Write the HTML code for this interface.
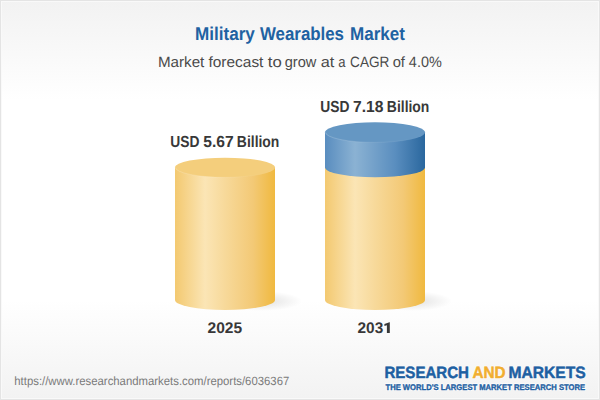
<!DOCTYPE html>
<html><head><meta charset="utf-8">
<style>
html,body{margin:0;padding:0;width:600px;height:400px;overflow:hidden;background:#fff;}
svg{display:block;}
text{font-family:"Liberation Sans",sans-serif;text-rendering:geometricPrecision;}
</style></head>
<body>
<svg width="600" height="400" viewBox="0 0 600 400">
<defs>
  <linearGradient id="bg" x1="0" y1="0" x2="0" y2="1">
    <stop offset="0" stop-color="#f2f2f2"/>
    <stop offset="0.25" stop-color="#ffffff"/>
    <stop offset="0.75" stop-color="#ffffff"/>
    <stop offset="1" stop-color="#f2f2f2"/>
  </linearGradient>
  <linearGradient id="yel" x1="0" y1="0" x2="1" y2="0">
    <stop offset="0" stop-color="#f3c970"/>
    <stop offset="0.3" stop-color="#fbe5b5"/>
    <stop offset="0.5" stop-color="#f7d99a"/>
    <stop offset="0.78" stop-color="#f3c976"/>
    <stop offset="1" stop-color="#f0b93f"/>
  </linearGradient>
  <linearGradient id="blu" x1="0" y1="0" x2="1" y2="0">
    <stop offset="0" stop-color="#598dbf"/>
    <stop offset="0.3" stop-color="#8bb2d3"/>
    <stop offset="0.7" stop-color="#5a8ebf"/>
    <stop offset="1" stop-color="#2a679e"/>
  </linearGradient>
  <linearGradient id="rim" x1="0" y1="0" x2="1" y2="0">
    <stop offset="0" stop-color="#fff" stop-opacity="0.2"/>
    <stop offset="0.6" stop-color="#fff" stop-opacity="0.08"/>
    <stop offset="1" stop-color="#fff" stop-opacity="0"/>
  </linearGradient>
  <radialGradient id="shadow" cx="0.5" cy="0.5" r="0.5">
    <stop offset="0" stop-color="#000" stop-opacity="0.12"/>
    <stop offset="1" stop-color="#000" stop-opacity="0"/>
  </radialGradient>
</defs>
<rect x="0" y="0" width="600" height="400" fill="url(#bg)"/>
<rect x="1.5" y="1.5" width="597" height="397" fill="none" stroke="#f9f9f9" stroke-width="1"/>
<rect x="0.5" y="0.5" width="599" height="399" fill="none" stroke="#e4e4e4" stroke-width="1"/>

<g font-size="18.5" font-weight="bold" fill="#1f62a2">
<text x="195" y="40" textLength="59.9" lengthAdjust="spacingAndGlyphs">Military</text>
<text x="260" y="40" textLength="84" lengthAdjust="spacingAndGlyphs">Wearables</text>
<text x="350" y="40" textLength="55" lengthAdjust="spacingAndGlyphs">Market</text>
</g>
<g font-size="15" fill="#4a4a4a">
<text x="157.96" y="66.5" textLength="46.36" lengthAdjust="spacingAndGlyphs">Market</text>
<text x="208.48" y="66.5" textLength="54.93" lengthAdjust="spacingAndGlyphs">forecast</text>
<text x="267.75" y="66.5" textLength="13.96" lengthAdjust="spacingAndGlyphs">to</text>
<text x="284.69" y="66.5" textLength="31.58" lengthAdjust="spacingAndGlyphs">grow</text>
<text x="320.81" y="66.5" textLength="13.56" lengthAdjust="spacingAndGlyphs">at</text>
<text x="338.25" y="66.5" textLength="7.25" lengthAdjust="spacingAndGlyphs">a</text>
<text x="350.11" y="66.5" textLength="39.22" lengthAdjust="spacingAndGlyphs">CAGR</text>
<text x="392.68" y="66.5" textLength="12.3" lengthAdjust="spacingAndGlyphs">of</text>
<text x="408.87" y="66.5" textLength="32.95" lengthAdjust="spacingAndGlyphs">4.0%</text>
</g>

<!-- shadows -->
<ellipse cx="262" cy="301" rx="40" ry="10" fill="url(#shadow)"/>
<ellipse cx="412" cy="301" rx="40" ry="10" fill="url(#shadow)"/>

<!-- cylinder 1 -->
<path d="M175,167.5 L175,300 A50,10 0 0 0 275,300 L275,167.5 Z" fill="url(#yel)"/>
<ellipse cx="225" cy="167.5" rx="50" ry="9.8" fill="#f4ce7c"/>
<path d="M175.5,167.5 A49.5,9.8 0 0 0 274.5,167.5" fill="none" stroke="url(#rim)" stroke-width="1"/>

<!-- cylinder 2 -->
<path d="M325,167 L325,300 A50,10 0 0 0 425,300 L425,167 Z" fill="url(#yel)"/>
<path d="M325,132.3 L325,167.3 A50,10 0 0 0 425,167.3 L425,132.3 Z" fill="url(#blu)"/>
<ellipse cx="375" cy="132.3" rx="50" ry="10.1" fill="#6597c3"/>
<path d="M325.5,132.3 A49.5,10.1 0 0 0 424.5,132.3" fill="none" stroke="url(#rim)" stroke-width="1"/>

<g font-size="16" font-weight="bold" fill="#383838">
<text x="170.37" y="147.1" textLength="29.21" lengthAdjust="spacingAndGlyphs">USD</text>
<text x="203.22" y="147.1" textLength="30.37" lengthAdjust="spacingAndGlyphs">5.67</text>
<text x="236.87" y="147.1" textLength="42.49" lengthAdjust="spacingAndGlyphs">Billion</text>
</g>
<g font-size="16" font-weight="bold" fill="#383838">
<text x="320.37" y="112.1" textLength="29.21" lengthAdjust="spacingAndGlyphs">USD</text>
<text x="353.03" y="112.1" textLength="30.35" lengthAdjust="spacingAndGlyphs">7.18</text>
<text x="386.87" y="112.1" textLength="42.49" lengthAdjust="spacingAndGlyphs">Billion</text>
</g>

<text x="207.56" y="332.8" font-size="15.3" font-weight="bold" fill="#383838" textLength="34.57" lengthAdjust="spacingAndGlyphs">2025</text>
<text x="357.57" y="332.8" font-size="15.3" font-weight="bold" fill="#383838" textLength="25.69" lengthAdjust="spacingAndGlyphs">203</text>
<path d="M389.8,322.2 L389.8,332.9 L386.9,332.9 L386.9,325.3 L384.4,326.1 L384.4,324.0 L389.5,322.2 Z" fill="#383838"/>

<text x="14.31" y="385.3" font-size="12" fill="#7a7a7a" textLength="275.0" lengthAdjust="spacingAndGlyphs">https://www.researchandmarkets.com/reports/6036367</text>

<text x="384.39" y="377.5" font-size="16.4" font-weight="bold" fill="#fff" stroke="#fff" stroke-width="2" stroke-opacity="0.7" stroke-linejoin="round" textLength="84.62" lengthAdjust="spacingAndGlyphs">RESEARCH</text>
<text x="472.42" y="377.5" font-size="16.4" font-weight="bold" fill="#fff" stroke="#fff" stroke-width="2" stroke-opacity="0.7" stroke-linejoin="round" textLength="33.23" lengthAdjust="spacingAndGlyphs">AND</text>
<text x="508.45" y="377.5" font-size="16.4" font-weight="bold" fill="#fff" stroke="#fff" stroke-width="2" stroke-opacity="0.7" stroke-linejoin="round" textLength="77.36" lengthAdjust="spacingAndGlyphs">MARKETS</text>
<text x="385.51" y="389.8" font-size="8.2" font-weight="bold" fill="#fff" stroke="#fff" stroke-width="2" stroke-opacity="0.7" stroke-linejoin="round" textLength="199.53" lengthAdjust="spacingAndGlyphs">THE WORLD'S LARGEST MARKET RESEARCH STORE</text>
<text x="384.39" y="377.5" font-size="16.4" font-weight="bold" fill="#1e60a2" stroke="#1e60a2" stroke-width="0.5" textLength="84.62" lengthAdjust="spacingAndGlyphs">RESEARCH</text>
<text x="472.42" y="377.5" font-size="16.4" font-weight="bold" fill="#f1ae30" stroke="#f1ae30" stroke-width="0.5" textLength="33.23" lengthAdjust="spacingAndGlyphs">AND</text>
<text x="508.45" y="377.5" font-size="16.4" font-weight="bold" fill="#1e60a2" stroke="#1e60a2" stroke-width="0.5" textLength="77.36" lengthAdjust="spacingAndGlyphs">MARKETS</text>
<text x="385.51" y="389.8" font-size="8.2" font-weight="bold" fill="#1e60a2" stroke="#1e60a2" stroke-width="0.35" textLength="199.53" lengthAdjust="spacingAndGlyphs">THE WORLD'S LARGEST MARKET RESEARCH STORE</text>
</svg>
</body></html>
